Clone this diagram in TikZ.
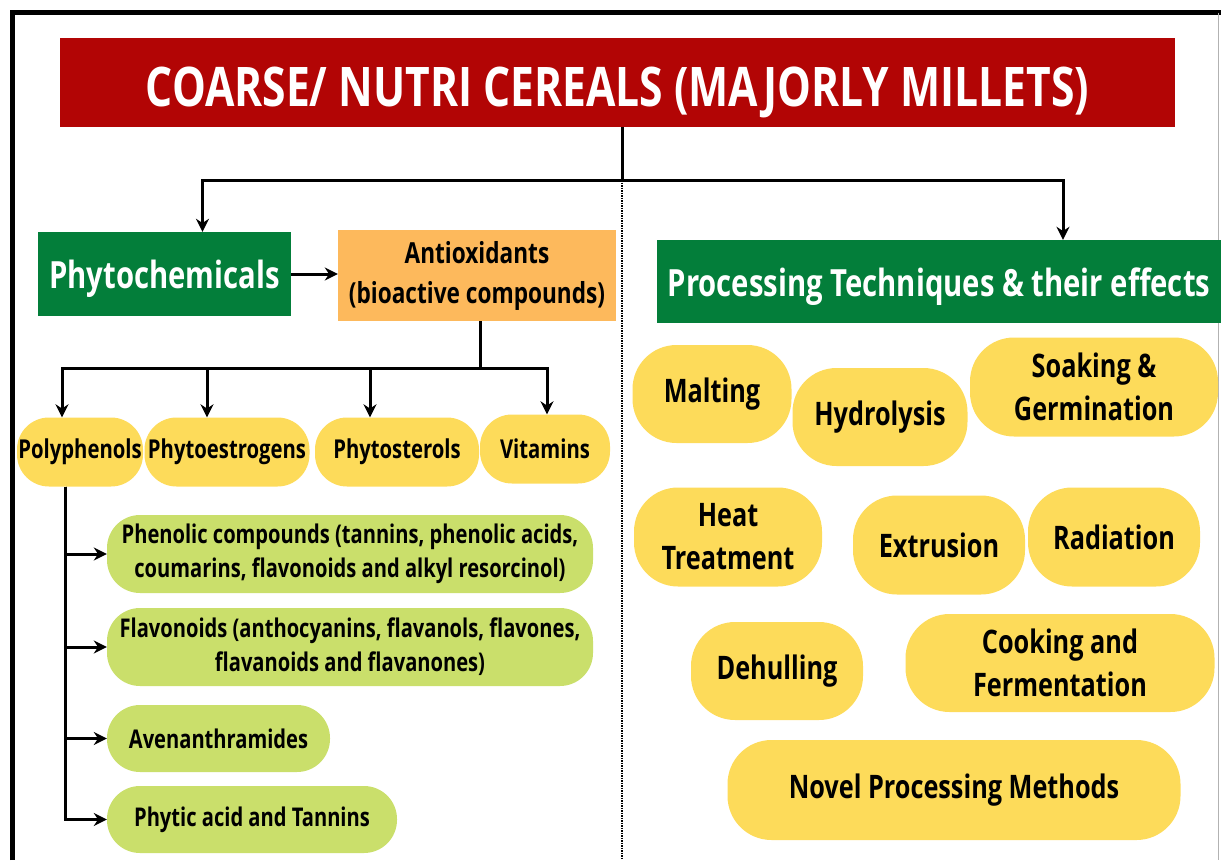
\documentclass[tikz,border=0pt]{standalone}
\usepackage{fontspec}
\setmainfont{Open Sans}[FakeStretch=0.78]
\usetikzlibrary{positioning}
\usetikzlibrary{arrows,arrows.meta,shapes}
\usetikzlibrary{calc}
\definecolor{titlered}{HTML}{B20505}
\definecolor{leafgreen}{HTML}{037E3A}
\definecolor{antiorange}{HTML}{FDB95C}
\definecolor{pillyellow}{HTML}{FDDB5A}
\definecolor{limegreen}{HTML}{CADF6B}
\tikzstyle{banner}=[fill=titlered,text=white,inner sep=0pt,text height=48pt,text depth=0pt,font=\bfseries\fontsize{54.6}{60}\selectfont]
\tikzstyle{greenbox}=[fill=leafgreen,text=white,inner sep=0pt,text height=29pt,text depth=0pt,font=\bfseries\fontsize{37.5}{44}\selectfont]
\tikzstyle{orangebox}=[fill=antiorange,inner sep=0pt,align=center,font=\bfseries\fontsize{29}{40}\selectfont]
\tikzstyle{smallpill}=[fill=pillyellow,inner sep=0pt,align=center,rounded corners=32pt,font=\bfseries\fontsize{26}{32}\selectfont]
\tikzstyle{bigpill}=[fill=pillyellow,inner sep=0pt,align=center,rounded corners=44pt,font=\bfseries\fontsize{32.4}{43}\selectfont]
\tikzstyle{limepill}=[fill=limegreen,inner sep=0pt,align=center,rounded corners=33pt,font=\bfseries\fontsize{25.8}{34}\selectfont]
\tikzstyle{link} = [draw,line width=3pt]
\tikzstyle{edge} = [draw,line width=3pt,-{Stealth[length=13pt,width=13pt]}]

\begin{document}
\begin{tikzpicture}[x=1pt,y=-1pt]
    \useasboundingbox (0,0) rectangle (1221,860);
    % frame of the sheet
    \draw[line width=5pt] (12.5,860) -- (12.5,12.5) -- (1221,12.5);
    \draw[gray!60,line width=1pt] (1218.5,12.5) -- (1218.5,860);

    % heading
    \node[banner,minimum width=1115pt,minimum height=89pt] (title) at (617.5,82.5) {COARSE/ NUTRI CEREALS (MAJORLY MILLETS)};

    % the two main branches
    \node[greenbox,minimum width=253pt,minimum height=84pt] (phyto) at (164.5,274) {Phytochemicals};
    \node[orangebox,minimum width=278pt,minimum height=91pt] (anti) at (477,275.5) {Antioxidants\\(bioactive compounds)};
    \node[greenbox,minimum width=564pt,minimum height=83pt] (proc) at (939,281.5) {Processing Techniques \& their effects};

    \coordinate (hub) at (622,180);
    \coordinate (foot) at (622,860);
    \path[link] (title.south -| hub) -- (hub);
    \path[edge] (hub) -| ([xshift=38pt]phyto.north);
    \path[edge] (hub) -| ([xshift=124pt]proc.north);
    \draw[densely dotted,line width=1.5pt] (hub) -- (foot);
    \path[edge] (phyto.east) -- (phyto.east -| anti.west);

    % compound classes
    \foreach \pos/\name/\w/\label in {{(80,452)/poly/126/Polyphenols}, {(227,452)/estro/165/Phytoestrogens}, {(397,452)/sterol/164/Phytosterols}, {(545,449)/vit/130/Vitamins}}
        \node[smallpill,minimum width=\w pt,minimum height=69pt] (\name) at \pos {\label};

    \coordinate (fork) at (480,368);
    \path[link] (anti.south -| fork) -- (fork);
    \foreach \name/\dx in {poly/-18, estro/-20, sterol/-27, vit/2}
        \path[edge] (fork) -| ([xshift=\dx pt]\name.north);

    % polyphenol groups
    \node[limepill,minimum width=486pt,minimum height=78pt] (phen) at (350,554) {Phenolic compounds (tannins, phenolic acids,\\coumarins, flavonoids and alkyl resorcinol)};
    \node[limepill,minimum width=486pt,minimum height=78pt] (flav) at (350,647) {Flavonoids (anthocyanins, flavanols, flavones,\\flavanoids and flavanones)};
    \node[limepill,minimum width=223pt,minimum height=67pt] (aven) at (218.5,738.5) {Avenanthramides};
    \node[limepill,minimum width=290pt,minimum height=67pt] (phytic) at (252,819.5) {Phytic acid and Tannins};

    \foreach \name in {phen, flav, aven, phytic}
        \path[edge] ([xshift=-15pt]poly.south) |- (\name.west);

    % processing methods
    \foreach \pos/\name/\w/\h/\label in {{(712,394)/malt/159/98/Malting}, {(880,417)/hydro/175/98/Hydrolysis}, {(1094,387)/soak/248/99/{Soaking \&\\Germination}}, {(728,537)/heat/188/99/{Heat\\Treatment}}, {(939,545)/extr/172/99/Extrusion}, {(1114,537)/rad/172/99/Radiation}, {(777,671)/dehull/172/98/Dehulling}, {(1060,663)/cook/309/98/{Cooking and\\Fermentation}}, {(954,790)/novel/453/100/Novel Processing Methods}}
        \node[bigpill,minimum width=\w pt,minimum height=\h pt] (\name) at \pos {\label};

\end{tikzpicture}
\end{document}
